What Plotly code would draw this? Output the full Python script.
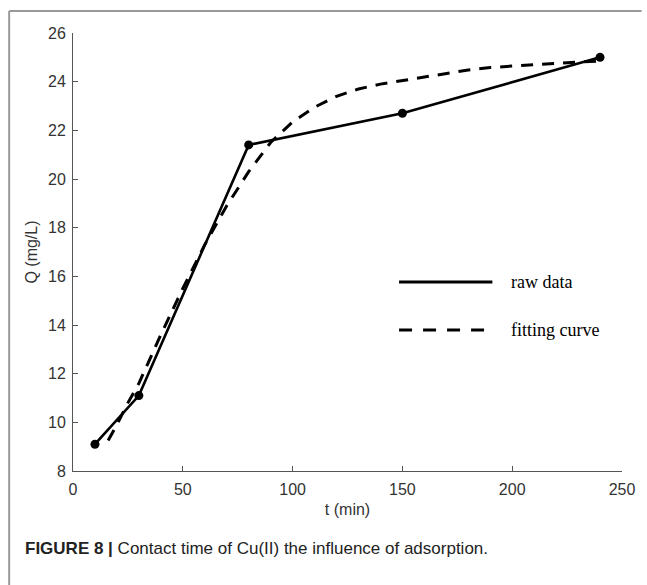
import plotly.graph_objects as go

# ---- data ----
t_raw = [10, 30, 80, 150, 240]
q_raw = [9.1, 11.1, 21.4, 22.7, 25.0]

t_fit = [16, 20, 25, 30, 40, 50, 60, 70, 80, 90, 100, 110, 120, 130, 140, 150,
         160, 170, 180, 190, 200, 210, 220, 230, 240]
q_fit = [9.25, 9.9, 10.8, 11.6, 13.6, 15.5, 17.3, 18.9, 20.3, 21.5, 22.35, 22.95,
         23.4, 23.7, 23.9, 24.05, 24.2, 24.35, 24.48, 24.58, 24.65, 24.7, 24.75,
         24.8, 24.85]

x_ticks = [0, 50, 100, 150, 200, 250]
y_ticks = [8, 10, 12, 14, 16, 18, 20, 22, 24, 26]

legend_names = ["raw data", "fitting curve"]

W, H = 647, 585
ML, MR, MT, MB = 73, 15, 33, 114
PW, PH = W - ML - MR, H - MT - MB


def px(xp):
    return (xp - ML) / PW


def py(yp):
    return (H - MB - yp) / PH


fig = go.Figure()
fig.add_trace(go.Scatter(x=t_fit, y=q_fit, mode="lines",
                         line=dict(color="black", width=3, dash="12px,9px"),
                         name=legend_names[1], showlegend=False))
fig.add_trace(go.Scatter(x=t_raw, y=q_raw, mode="lines+markers",
                         line=dict(color="black", width=2.6),
                         marker=dict(color="black", size=9),
                         name=legend_names[0], showlegend=False))

tick_font = dict(family="Liberation Sans, Arial", size=16, color="#333")
title_font = dict(family="Liberation Sans, Arial", size=16, color="#333")
fig.update_xaxes(range=[0, 250], tickvals=x_ticks, ticks="inside", ticklen=5,
                 tickcolor="#555", showline=True, linecolor="#555", linewidth=1,
                 showgrid=False, zeroline=False, tickfont=tick_font,
                 ticklabelstandoff=4,
                 title=dict(text="t (min)", font=title_font, standoff=6))
fig.update_yaxes(range=[8, 26], tickvals=y_ticks, ticks="inside", ticklen=5,
                 tickcolor="#555", showline=True, linecolor="#555", linewidth=1,
                 showgrid=False, zeroline=False, tickfont=tick_font,
                 ticklabelstandoff=3,
                 title=dict(text="Q (mg/L)", font=title_font, standoff=6))

shapes = [
    # figure frame (left and top)
    dict(type="line", xref="paper", yref="paper", x0=px(8), x1=px(8), y0=py(11), y1=py(H + 5),
         line=dict(color="#999", width=2)),
    dict(type="line", xref="paper", yref="paper", x0=px(8), x1=px(W + 5), y0=py(11), y1=py(11),
         line=dict(color="#999", width=2)),
    # legend samples
    dict(type="line", xref="paper", yref="paper", x0=px(405), x1=px(500), y0=py(282), y1=py(282),
         line=dict(color="black", width=3)),
    dict(type="line", xref="paper", yref="paper", x0=px(405), x1=px(500), y0=py(330), y1=py(330),
         line=dict(color="black", width=3, dash="13px,11px")),
]

legend_font = dict(family="Liberation Serif, Times New Roman", size=18, color="black")
annotations = [
    dict(text=legend_names[0], xref="paper", yref="paper", x=px(517), y=py(282),
         xanchor="left", yanchor="middle", showarrow=False, font=legend_font),
    dict(text=legend_names[1], xref="paper", yref="paper", x=px(517), y=py(330),
         xanchor="left", yanchor="middle", showarrow=False, font=legend_font),
    dict(text="<b>FIGURE 8 |</b> Contact time of Cu(II) the influence of adsorption.",
         xref="paper", yref="paper", x=px(22), y=py(548), xanchor="left", yanchor="middle",
         showarrow=False, font=dict(family="Liberation Sans, Arial", size=17, color="#222")),
]

fig.update_layout(width=W, height=H, margin=dict(l=ML, r=MR, t=MT, b=MB),
                  paper_bgcolor="white", plot_bgcolor="white",
                  shapes=shapes, annotations=annotations, showlegend=False)

fig.write_html("out.html")
